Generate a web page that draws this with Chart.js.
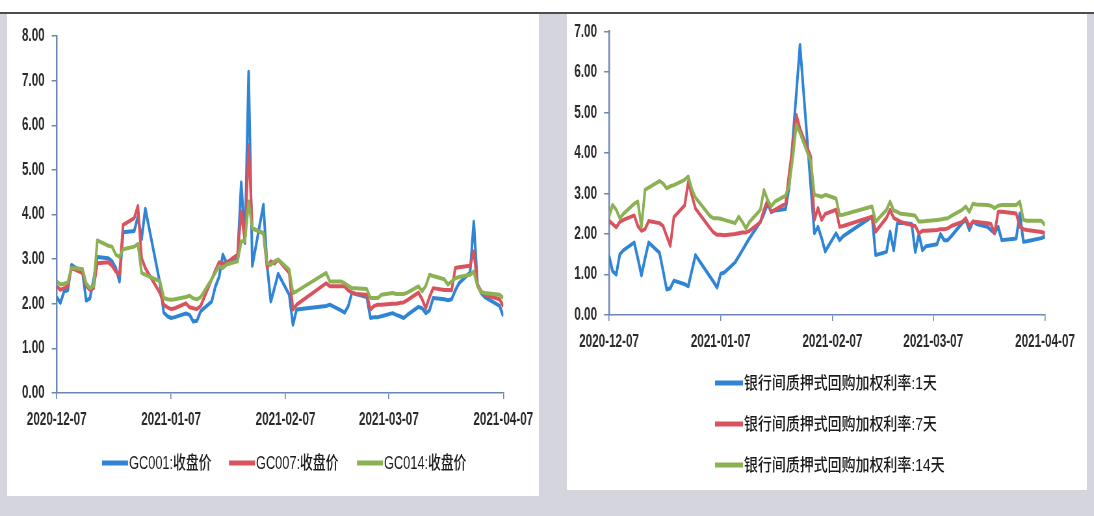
<!DOCTYPE html>
<html>
<head>
<meta charset="utf-8">
<script src="https://cdn.jsdelivr.net/npm/chart.js@4.4.1/dist/chart.umd.min.js"></script>
<style>
html,body{margin:0;padding:0;}
body{width:1094px;height:516px;position:relative;overflow:hidden;background:#d5d6dd;}
#topw{position:absolute;left:0;top:0;width:1094px;height:12px;background:#fff;}
#topl{position:absolute;left:0;top:12px;width:1094px;height:2px;background:#4d4d4d;}
#pl{position:absolute;left:7px;top:14px;width:532px;height:482px;background:#fff;}
#pr{position:absolute;left:567px;top:14px;width:520px;height:476px;background:#fff;}
canvas{position:absolute;left:0;top:0;transform-origin:0 0;}
</style>
</head>
<body>
<div id="topw"></div><div id="topl"></div>
<div id="pl"></div><div id="pr"></div>
<canvas id="c1"></canvas>
<canvas id="c2"></canvas>
<script>
// ---------- DATA ----------
const dates = [
 '2020-12-07','2020-12-08','2020-12-09','2020-12-10','2020-12-11',
 '2020-12-14','2020-12-15','2020-12-16','2020-12-17','2020-12-18',
 '2020-12-21','2020-12-22','2020-12-23','2020-12-24','2020-12-25',
 '2020-12-28','2020-12-29','2020-12-30','2020-12-31',
 '2021-01-04','2021-01-05','2021-01-06','2021-01-07','2021-01-08',
 '2021-01-11','2021-01-12','2021-01-13','2021-01-14','2021-01-15',
 '2021-01-18','2021-01-19','2021-01-20','2021-01-21','2021-01-22',
 '2021-01-25','2021-01-26','2021-01-27','2021-01-28','2021-01-29',
 '2021-02-01','2021-02-02','2021-02-03','2021-02-04','2021-02-05',
 '2021-02-08','2021-02-09','2021-02-10','2021-02-18','2021-02-19',
 '2021-02-22','2021-02-23','2021-02-24','2021-02-25','2021-02-26',
 '2021-03-01','2021-03-02','2021-03-03','2021-03-04','2021-03-05',
 '2021-03-08','2021-03-09','2021-03-10','2021-03-11','2021-03-12',
 '2021-03-15','2021-03-16','2021-03-17','2021-03-18','2021-03-19',
 '2021-03-22','2021-03-23','2021-03-24','2021-03-25','2021-03-26',
 '2021-03-29','2021-03-30','2021-03-31',
 '2021-04-01','2021-04-02','2021-04-06','2021-04-07'
];
const tickDates = ['2020-12-07','2021-01-07','2021-02-07','2021-03-07','2021-04-07'];
const tickLabels = ['2020-12-07','2021-01-07','2021-02-07','2021-03-07','2021-04-07'];

// left chart: exchange repo closing prices
const gc001 = [2.15,2.02,2.28,2.30,2.87, 2.70,2.07,2.12,2.55,3.05, 3.02,2.95,2.80,2.50,3.60, 3.63,3.95,3.45,4.13,
 2.45,1.80,1.72,1.68,1.70, 1.78,1.75,1.60,1.62,1.83, 2.05,2.39,2.60,3.10,2.92, 3.05,4.72,3.36,7.20,2.85,
 4.22,2.87,2.05,2.35,2.67, 2.20,1.53,1.87, 1.95,1.98, 1.85,1.80,1.95,2.25,2.22,
 2.15,1.68,1.70,1.70,1.72, 1.79,1.75,1.72,1.68,1.75, 1.93,1.90,1.79,1.85,2.13, 2.10,2.08,2.10,2.30,2.46, 2.70,3.84,2.43,
 2.24,2.15, 1.95,1.72];
const gc007 = [2.39,2.31,2.35,2.40,2.80, 2.69,2.40,2.31,2.35,2.91, 2.93,2.85,2.72,2.65,3.77, 3.92,4.19,3.02,2.80,
 2.24,1.98,1.92,1.88,1.90, 2.01,1.92,1.90,1.88,1.95, 2.55,2.75,2.93,2.90,2.92, 3.10,4.07,3.40,5.56,3.69,
 3.58,2.80,2.95,2.90,2.99, 2.69,1.87,1.98, 2.46,2.39, 2.39,2.39,2.30,2.25,2.22,
 2.20,1.87,1.95,1.98,1.98, 2.00,2.00,2.02,2.03,2.08, 2.25,2.10,1.90,2.15,2.35, 2.31,2.31,2.30,2.80,2.82, 2.85,3.17,2.43,
 2.28,2.20, 2.10,1.94];
const gc014 = [2.50,2.43,2.45,2.48,2.80, 2.78,2.45,2.35,2.40,3.42, 3.30,3.28,3.10,3.05,3.22, 3.28,3.34,2.69,2.65,
 2.50,2.13,2.10,2.09,2.10, 2.15,2.18,2.12,2.10,2.15, 2.55,2.70,2.84,2.80,2.88, 2.95,3.40,3.40,4.29,3.69,
 3.58,2.91,2.87,2.95,2.99, 2.76,2.24,2.28, 2.69,2.50, 2.50,2.46,2.40,2.35,2.35,
 2.33,2.13,2.13,2.13,2.20, 2.24,2.22,2.22,2.22,2.25, 2.39,2.28,2.40,2.65,2.62, 2.55,2.43,2.50,2.57,2.60, 2.65,2.72,2.39,
 2.26,2.24, 2.20,2.13];

// right chart: interbank pledged repo weighted rates
const r1d = [1.46,1.08,1.00,1.50,1.60, 1.79,1.40,0.98,1.40,1.79, 1.54,1.10,0.63,0.66,0.85, 0.76,0.71,1.10,1.48,
 0.95,0.82,0.68,1.02,1.05, 1.30,1.45,1.60,1.75,1.90, 2.30,2.50,2.75,2.55,2.58, 2.62,3.17,4.33,5.50,6.67,
 3.17,2.02,2.18,1.90,1.57, 2.02,1.85,1.95, 2.43,1.48, 1.56,2.06,1.60,2.27,2.28,
 2.25,1.56,2.00,1.60,1.70, 1.75,2.00,1.85,1.85,1.95, 2.27,2.35,2.10,2.31,2.25, 2.18,2.10,2.02,2.18,1.85, 1.88,1.89,2.51,
 1.81,1.82, 1.90,1.94];
const r7d = [2.33,2.25,2.17,2.30,2.35, 2.46,2.20,2.08,2.12,2.32, 2.27,2.20,1.95,1.71,2.42, 2.71,3.29,2.95,2.63,
 2.15,2.04,1.98,1.98,1.97, 2.00,2.02,2.04,2.04,2.08, 2.29,2.60,2.83,2.54,2.60, 2.75,3.50,4.20,4.94,4.60,
 3.91,2.35,2.64,2.35,2.50, 2.60,2.18,2.20, 2.43,2.06, 2.40,2.60,2.40,2.35,2.30,
 2.22,2.20,2.02,2.08,2.08, 2.10,2.12,2.12,2.14,2.20, 2.30,2.39,2.20,2.31,2.30, 2.27,2.25,2.02,2.55,2.55, 2.52,2.51,2.18,
 2.12,2.10, 2.05,2.02];
const r14d = [2.43,2.72,2.60,2.39,2.50, 2.75,2.80,2.18,3.09,3.15, 3.31,3.25,3.13,3.18,3.21, 3.34,3.42,3.10,2.90,
 2.45,2.39,2.39,2.38,2.35, 2.27,2.43,2.30,2.14,2.30, 2.60,3.09,2.85,2.68,2.80, 2.95,3.20,3.90,4.70,4.50,
 3.79,2.97,2.95,2.92,2.97, 2.88,2.47,2.48, 2.68,2.31, 2.60,2.80,2.58,2.55,2.50,
 2.47,2.45,2.31,2.31,2.32, 2.35,2.36,2.38,2.39,2.45, 2.60,2.68,2.55,2.75,2.73, 2.72,2.70,2.64,2.70,2.72, 2.72,2.72,2.80,
 2.35,2.33, 2.33,2.22];

const leftLabels = ['GC001:收盘价','GC007:收盘价','GC014:收盘价'];
const rightLabels = ['银行间质押式回购加权利率:1天','银行间质押式回购加权利率:7天','银行间质押式回购加权利率:14天'];

// ---------- RENDER ----------
const SX = 0.65;                     // horizontal squeeze of the scanned picture
const CW = Math.round(1094 / SX);
const CH = 516;
const BLUE = '#2f84d6', RED = '#d9535e', GREEN = '#8bb153';
const AXIS = '#6b86b3';
const FONT = "'Liberation Sans','Noto Sans CJK SC',sans-serif";
const TXT = '#2a2a2a';

const base = Date.UTC(2020, 11, 7);
function dayOf(s) { const p = s.split('-').map(Number); return (Date.UTC(p[0], p[1]-1, p[2]) - base) / 86400000; }
const xs = dates.map(dayOf);
const tickDays = tickDates.map(dayOf);

const legendPlugin = {
  id: 'scanLegend',
  afterDraw(chart, args, opts) {
    const ctx = chart.ctx;
    ctx.save();
    chart.data.datasets.forEach((ds, i) => {
      const p = opts.items[i];
      const x = p.x / SX, y = p.y, len = opts.lineLen / SX;
      ctx.strokeStyle = ds.borderColor;
      ctx.lineWidth = 5;
      ctx.lineCap = 'butt';
      ctx.beginPath(); ctx.moveTo(x, y); ctx.lineTo(x + len, y); ctx.stroke();
      ctx.save();
      const k = opts.squeeze / SX;
      ctx.translate(x + len + 1 / SX, y + 1);
      ctx.scale(k, 1);
      ctx.fillStyle = '#1a1a1a';
      ctx.font = '500 ' + opts.fontSize + 'px ' + FONT;
      ctx.textBaseline = 'middle';
      ctx.textAlign = 'left';
      ctx.fillText(ds.label, 0, 0);
      ctx.restore();
    });
    ctx.restore();
  }
};

function series(label, vals, color, order) {
  return { label, data: xs.map((x, i) => ({ x, y: vals[i] })), borderColor: color, backgroundColor: color,
           borderWidth: 4, borderJoinStyle: 'round', pointRadius: 0, tension: 0, fill: false, order };
}

function makeChart(id, cfg, datasets) {
  const cv = document.getElementById(id);
  cv.width = CW; cv.height = CH;
  const yW = 48 / SX, xH = 44;
  const chart = new Chart(cv, {
    type: 'line',
    data: { datasets },
    options: {
      responsive: false, animation: false, devicePixelRatio: 1,
      layout: { padding: { left: cfg.L / SX - yW, right: CW - cfg.R / SX, top: cfg.T, bottom: CH - cfg.B - xH } },
      plugins: { legend: { display: false }, tooltip: { enabled: false }, scanLegend: cfg.legend },
      scales: {
        x: {
          type: 'linear', min: 0, max: 121,
          afterBuildTicks: (s) => { s.ticks = tickDays.map(v => ({ value: v })); },
          afterFit: (s) => { s.height = xH; },
          ticks: { autoSkip: false, maxRotation: 0, minRotation: 0, padding: 10, color: TXT,
                   font: { family: FONT, size: 18, weight: 'bold' },
                   callback: (v) => { const k = tickDays.indexOf(v); return k >= 0 ? tickLabels[k] : ''; } },
          grid: { display: true, drawOnChartArea: false, drawTicks: true, tickLength: 6, color: AXIS, lineWidth: 1.6 },
          border: { display: true, color: AXIS, width: 1.6 }
        },
        y: {
          min: 0, max: cfg.yMax,
          afterFit: (s) => { s.width = yW; },
          ticks: { stepSize: 1, padding: 7 / SX, color: TXT, font: { family: FONT, size: 18, weight: 'bold' },
                   callback: (v) => Number(v).toFixed(2) },
          grid: { display: true, drawOnChartArea: false, drawTicks: true, tickLength: 5 / SX, color: AXIS, lineWidth: 1.5 },
          border: { display: true, color: AXIS, width: 1.6 / SX }
        }
      }
    },
    plugins: [legendPlugin]
  });
  cv.style.transform = 'scaleX(' + SX + ')';
  return chart;
}

makeChart('c1', {
  L: 56.7, R: 503.3, T: 36, B: 393, yMax: 8,
  legend: { lineLen: 26, fontSize: 18, squeeze: 0.71, items: [{ x: 102, y: 463 }, { x: 229, y: 463 }, { x: 357, y: 463 }] }
}, [
  series(leftLabels[0], gc001, BLUE, 3),
  series(leftLabels[1], gc007, RED, 2),
  series(leftLabels[2], gc014, GREEN, 1)
]);

makeChart('c2', {
  L: 609, R: 1045, T: 31.7, B: 315, yMax: 7,
  legend: { lineLen: 28, fontSize: 17, squeeze: 0.82, items: [{ x: 715, y: 383 }, { x: 715, y: 424 }, { x: 715, y: 465 }] }
}, [
  series(rightLabels[0], r1d, BLUE, 3),
  series(rightLabels[1], r7d, RED, 2),
  series(rightLabels[2], r14d, GREEN, 1)
]);
</script>
</body>
</html>
